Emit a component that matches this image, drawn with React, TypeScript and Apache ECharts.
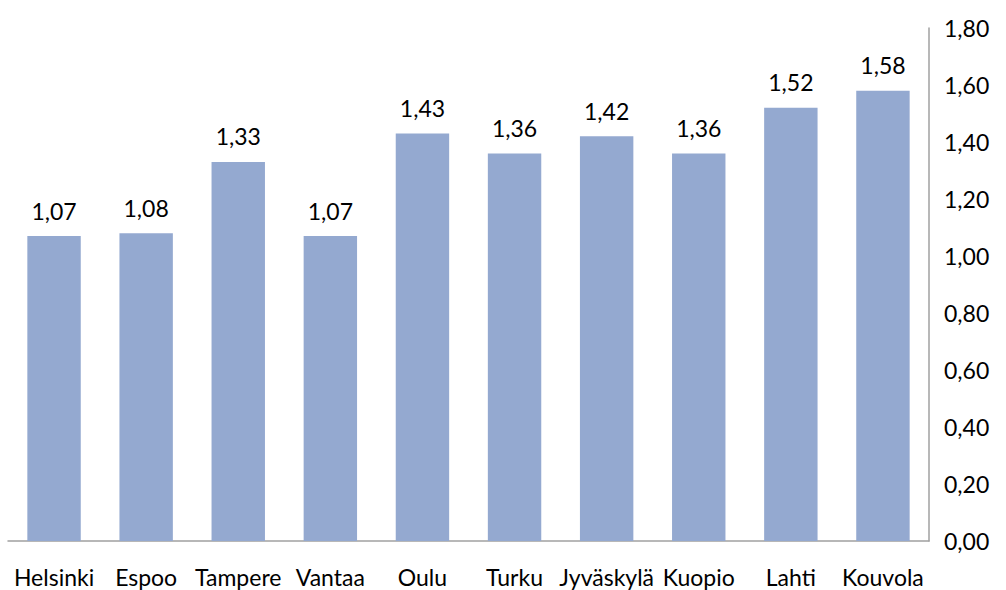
import React, { useEffect, useRef } from "react";
import * as echarts from "echarts";

const categories = ["Helsinki", "Espoo", "Tampere", "Vantaa", "Oulu", "Turku", "Jyväskylä", "Kuopio", "Lahti", "Kouvola"];
const values = [1.07, 1.08, 1.33, 1.07, 1.43, 1.36, 1.42, 1.36, 1.52, 1.58];

const fmt = (v: number) => v.toFixed(2).replace(".", ",");

export default function App() {
  const ref = useRef<HTMLDivElement>(null);
  useEffect(() => {
    if (!ref.current) return;
    const chart = echarts.init(ref.current, undefined, { renderer: "svg" });
    const font = "Lato, 'Noto Sans', sans-serif";
    chart.setOption({
      animation: false,
      grid: { left: 8, right: 77, top: 28, bottom: 49, containLabel: false },
      xAxis: {
        type: "category",
        data: categories,
        axisLine: { show: true, lineStyle: { color: "#a0a0a0", width: 1.5 } },
        axisTick: { show: false },
        axisLabel: { color: "#000", fontSize: 23, fontFamily: font, margin: 24, interval: 0 },
      },
      yAxis: {
        type: "value",
        position: "right",
        min: 0,
        max: 1.8,
        interval: 0.2,
        splitLine: { show: false },
        axisLine: { show: true, lineStyle: { color: "#a0a0a0", width: 1.5 } },
        axisTick: { show: false },
        axisLabel: { color: "#000", fontSize: 23, fontFamily: font, margin: 15, formatter: (v: number) => fmt(v) },
      },
      series: [
        {
          type: "bar",
          data: values,
          barWidth: "58%",
          itemStyle: { color: "#94a9d0" },
          label: {
            show: true,
            position: "top",
            distance: 14,
            color: "#000",
            fontSize: 23,
            fontFamily: font,
            formatter: (p: any) => fmt(p.value),
          },
        },
      ],
    });
    return () => chart.dispose();
  }, []);
  return <div ref={ref} style={{ width: 1006, height: 590, position: "absolute", left: 0, top: 0 }} />;
}
